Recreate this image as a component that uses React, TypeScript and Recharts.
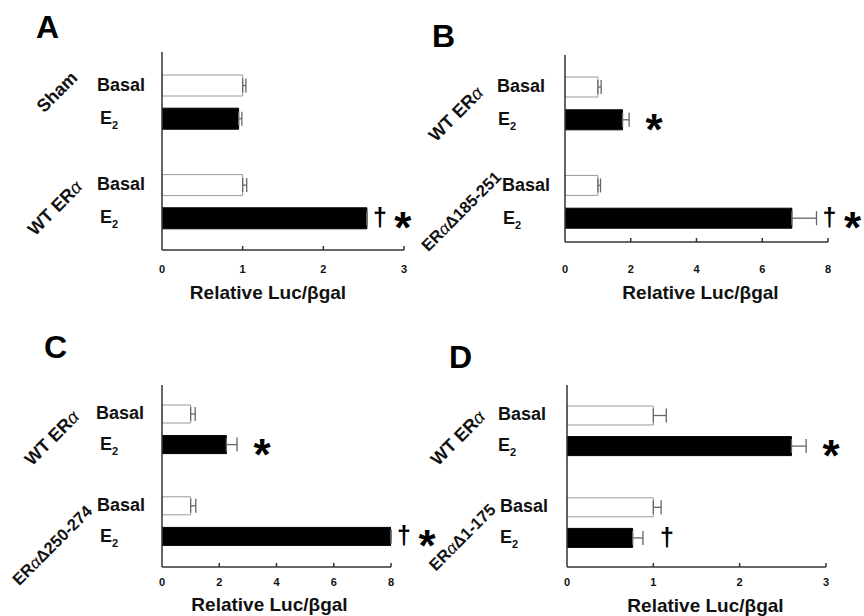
import React from "react";
import { BarChart, Bar, XAxis, YAxis, Cell, ErrorBar, LabelList } from "recharts";

// rows: two groups of Basal / E2 with an empty spacer row between them
const rowLabels = ["Basal", "E2", "", "Basal", "E2"];

const valuesA = [1.0, 0.95, null, 1.0, 2.54];
const errorsA = [0.04, 0.04, null, 0.05, 0];
const marksA = ["", "", "", "", "†*"];
const groupsA = ["Sham", "WT ERα"];
const ticksA = [0, 1, 2, 3];

const valuesB = [1.0, 1.75, null, 1.0, 6.9];
const errorsB = [0.1, 0.2, null, 0.08, 0.75];
const marksB = ["", "*", "", "", "†*"];
const groupsB = ["WT ERα", "ERαΔ185-251"];
const ticksB = [0, 2, 4, 6, 8];

const valuesC = [1.0, 2.25, null, 1.0, 8.0];
const errorsC = [0.16, 0.37, null, 0.18, 0];
const marksC = ["", "*", "", "", "†*"];
const groupsC = ["WT ERα", "ERαΔ250-274"];
const ticksC = [0, 2, 4, 6, 8];

const valuesD = [1.0, 2.6, null, 1.0, 0.76];
const errorsD = [0.15, 0.17, null, 0.09, 0.12];
const marksD = ["", "*", "", "", "†"];
const groupsD = ["WT ERα", "ERαΔ1-175"];
const ticksD = [0, 1, 2, 3];

const xTitle = "Relative Luc/βgal";

const W = 864;
const H = 616;
const FONT = "'Liberation Sans', Arial, Helvetica, sans-serif";
const AXIS = "#333";
const Y_W = 80;
const X_H = 60;

const PANELS = [
  {
    letter: "A", values: valuesA, errors: errorsA, marks: marksA, groups: groupsA, ticks: ticksA,
    plot: { l: 162, r: 404, t: 52, b: 250 }, pad: { top: 17, bottom: 15 }, barSize: 21,
    letterPos: [36, 38], groupPos: [[57, 92], [55, 208]], groupSize: [18, 18], insets: [65, 62, 0, 65, 62],
    tickGap: 19, titleGap: 42, titleDx: -15,
  },
  {
    letter: "B", values: valuesB, errors: errorsB, marks: marksB, groups: groupsB, ticks: ticksB,
    plot: { l: 565, r: 828, t: 55, b: 242 }, pad: { top: 16, bottom: 7 }, barSize: 20,
    letterPos: [432, 47], groupPos: [[456, 114], [461, 211]], groupSize: [18, 16.5], insets: [68, 67, 0, 63, 62],
    tickGap: 27, titleGap: 50, titleDx: 4,
  },
  {
    letter: "C", values: valuesC, errors: errorsC, marks: marksC, groups: groupsC, ticks: ticksC,
    plot: { l: 162, r: 391, t: 385, b: 567 }, pad: { top: 14, bottom: 15 }, barSize: 18,
    letterPos: [44, 358], groupPos: [[52, 438], [52, 545]], groupSize: [18, 16.5], insets: [66, 62, 0, 65, 62],
    tickGap: 15, titleGap: 37, titleDx: -7,
  },
  {
    letter: "D", values: valuesD, errors: errorsD, marks: marksD, groups: groupsD, ticks: ticksD,
    plot: { l: 567, r: 826, t: 385, b: 567 }, pad: { top: 15, bottom: 14 }, barSize: 19,
    letterPos: [449, 368], groupPos: [[458, 438], [462, 537]], groupSize: [18, 16.5], insets: [69, 69, 0, 67, 67],
    tickGap: 15, titleGap: 38, titleDx: 9,
  },
];

const RowTick = (props: any) => {
  const { x, y, payload, insets } = props;
  const i = Number(payload.value);
  const label = rowLabels[i];
  if (!label) return null;
  const tx = x - insets[i];
  if (label === "E2") {
    return (
      <text x={tx} y={y} dy={5} fontSize={18} fontWeight="bold" fontFamily={FONT} fill="#111">
        <tspan>E</tspan>
        <tspan fontSize={11} dy={5}>2</tspan>
      </text>
    );
  }
  return (
    <text x={tx} y={y} dy={5} fontSize={18} fontWeight="bold" fontFamily={FONT} fill="#111">
      {label}
    </text>
  );
};

const ValueTick = (props: any) => {
  const { x, y, payload, gap } = props;
  return (
    <g>
      {payload.value !== 0 && (
        <line x1={x} x2={x} y1={y} y2={y - 4} stroke={AXIS} strokeWidth={1.5} />
      )}
      <text x={x} y={y + gap + 4} textAnchor="middle" fontSize={11} fontWeight="bold" fontFamily={FONT} fill="#111">
        {payload.value}
      </text>
    </g>
  );
};

// LabelList value is the row id, so the row's value, error and mark can be looked up
const markRenderer = (cfg: any) => (props: any) => {
  const i = Number(props.value);
  const mark = cfg.marks[i];
  if (!mark) return null;
  const vb = props.viewBox && props.viewBox.width != null ? props.viewBox : props;
  const { x, y, width, height } = vb;
  const v = cfg.values[i] || 1;
  const e = cfg.errors[i] || 0;
  const end = x + width * (1 + e / v);
  const cy = y + height / 2;
  const hasDagger = mark.includes("†");
  const hasStar = mark.includes("*");
  return (
    <g fontFamily={FONT} fontWeight="bold" fill="#000">
      {hasDagger && (
        <text x={hasStar ? end + 13 : end + 24} y={cy + 8} textAnchor="middle" fontSize={25}>†</text>
      )}
      {hasStar && (
        <text x={hasDagger ? end + 36 : end + 25} y={cy + 25} textAnchor="middle" fontSize={44}>*</text>
      )}
    </g>
  );
};

const GroupLabel = ({ text, x, y, size }: { text: string; x: number; y: number; size: number }) => {
  const parts = text.split("α");
  return (
    <text
      x={x}
      y={y}
      textAnchor="middle"
      dominantBaseline="central"
      transform={`rotate(-45 ${x} ${y})`}
      fontSize={size}
      fontWeight="bold"
      fontFamily={FONT}
      fill="#111"
    >
      {parts.map((p, i) => (
        <React.Fragment key={i}>
          <tspan>{p}</tspan>
          {i < parts.length - 1 && <tspan fontStyle="italic" fontWeight="normal">α</tspan>}
        </React.Fragment>
      ))}
    </text>
  );
};

function Panel({ cfg }: { cfg: any }) {
  const { plot, pad } = cfg;
  const data = rowLabels.map((label, i) => ({
    row: String(i),
    label,
    value: cfg.values[i],
    err: cfg.values[i] == null ? null : [0, cfg.errors[i]],
  }));
  const max = cfg.ticks[cfg.ticks.length - 1];
  return (
    <div style={{ position: "absolute", left: 0, top: 0 }}>
      <BarChart
        width={W}
        height={H}
        layout="vertical"
        data={data}
        barCategoryGap={0}
        margin={{ top: plot.t, left: plot.l - Y_W, right: W - plot.r, bottom: H - plot.b - X_H }}
      >
        <XAxis
          type="number"
          domain={[0, max]}
          ticks={cfg.ticks}
          allowDataOverflow
          height={X_H}
          tickSize={0}
          tickMargin={0}
          tickLine={false}
          axisLine={{ stroke: AXIS, strokeWidth: 1.5 }}
          tick={(p: any) => <ValueTick {...p} gap={cfg.tickGap} />}
        />
        <YAxis
          type="category"
          dataKey="row"
          width={Y_W}
          interval={0}
          padding={pad}
          tickSize={0}
          tickMargin={0}
          tickLine={false}
          axisLine={{ stroke: AXIS, strokeWidth: 1.5 }}
          tick={(p: any) => <RowTick {...p} insets={cfg.insets} />}
        />
        <Bar dataKey="value" barSize={cfg.barSize} isAnimationActive={false}>
          {data.map((d, i) => (
            <Cell
              key={i}
              fill={d.label === "Basal" ? "#fff" : "#000"}
              stroke={d.label === "Basal" ? "#999" : "#000"}
              strokeWidth={1}
            />
          ))}
          <ErrorBar dataKey="err" direction="x" width={7} stroke="#666" strokeWidth={1.3} />
          <LabelList dataKey="row" content={markRenderer(cfg)} />
        </Bar>
      </BarChart>
    </div>
  );
}

export default function App() {
  return (
    <div style={{ position: "absolute", left: 0, top: 0, width: W, height: H, background: "#fff" }}>
      {PANELS.map((cfg) => (
        <Panel key={cfg.letter} cfg={cfg} />
      ))}
      <svg width={W} height={H} style={{ position: "absolute", left: 0, top: 0, pointerEvents: "none" }}>
        {PANELS.map((cfg) => (
          <g key={cfg.letter}>
            <text x={cfg.letterPos[0]} y={cfg.letterPos[1]} fontSize={32} fontWeight="bold" fontFamily={FONT} fill="#000">
              {cfg.letter}
            </text>
            {cfg.groups.map((g: string, i: number) => (
              <GroupLabel key={i} text={g} x={cfg.groupPos[i][0]} y={cfg.groupPos[i][1]} size={cfg.groupSize[i]} />
            ))}
            <text
              x={(cfg.plot.l + cfg.plot.r) / 2 + cfg.titleDx}
              y={cfg.plot.b + cfg.titleGap}
              textAnchor="middle"
              dominantBaseline="central"
              fontSize={19}
              fontWeight="bold"
              fontFamily={FONT}
              fill="#111"
            >
              {xTitle}
            </text>
          </g>
        ))}
      </svg>
    </div>
  );
}
